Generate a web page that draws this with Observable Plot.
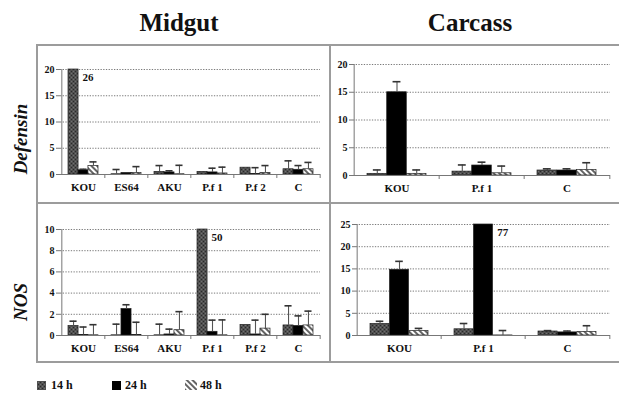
<!DOCTYPE html>
<html><head><meta charset="utf-8">
<script src="https://cdn.jsdelivr.net/npm/d3@7"></script>
<script src="https://cdn.jsdelivr.net/npm/@observablehq/plot@0.6"></script>
<style>
body{margin:0;background:#fff;}
#wrap{position:relative;width:619px;height:394px;font-family:"Liberation Serif","Times New Roman",serif;font-weight:bold;color:#111;overflow:hidden}
.abs{position:absolute}
.title{font-size:25px;line-height:25px;width:200px;text-align:center}
.ylab{font-size:19px;font-style:italic;line-height:20px;white-space:nowrap;transform:translate(-50%,-50%) rotate(-90deg)}
.ln{position:absolute;background:#9c9c9c}
.leg{font-size:12px;line-height:12px;white-space:nowrap}
</style></head>
<body><div id="wrap"></div>
<script>
// ---------------- data ----------------
const timepoints = ["14 h", "24 h", "48 h"];
const midgutCats = ["KOU", "ES64", "AKU", "P.f 1", "P.f 2", "C"];
const carcassCats = ["KOU", "P.f 1", "C"];

// means: one row per timepoint (14 h, 24 h, 48 h), one column per category
const midgutDefensinMean = [
  [26, 0.05, 0.5, 0.5, 1.3, 1.0],
  [0.8, 0.3, 0.4, 0.4, 0.1, 0.9],
  [1.6, 0.3, 0.05, 0.2, 0.3, 1.0]
];
const midgutDefensinSD = [
  [null, 0.9, 1.2, null, null, 1.6],
  [0.2, null, 0.3, 0.8, 1.2, 0.8],
  [0.8, 1.2, 1.7, 1.2, 1.4, 1.3]
];
const carcassDefensinMean = [
  [0.3, 0.7, 0.9],
  [15.0, 1.8, 0.9],
  [0.3, 0.4, 1.0]
];
const carcassDefensinSD = [
  [0.7, 1.2, 0.3],
  [1.9, 0.6, 0.3],
  [0.7, 1.3, 1.3]
];
const midgutNOSMean = [
  [0.9, 0.02, 0.02, 50, 1.0, 0.95],
  [0.05, 2.5, 0.1, 0.35, 0.1, 0.9],
  [0.02, 0.05, 0.5, 0.02, 0.65, 0.95]
];
const midgutNOSSD = [
  [0.45, 1.05, 1.05, null, null, 1.85],
  [0.75, 0.4, 0.5, 1.1, 1.35, 0.95],
  [1.0, 1.2, 1.75, 1.45, 1.35, 1.35]
];
const carcassNOSMean = [
  [2.6, 1.4, 0.9],
  [14.8, 77, 0.7],
  [1.0, 0.02, 0.8]
];
const carcassNOSSD = [
  [0.6, 1.3, 0.2],
  [1.9, null, 0.3],
  [0.6, 1.1, 1.4]
];
const defensinTicks = [0, 5, 10, 15, 20];
const midgutNOSTicks = [0, 2, 4, 6, 8, 10];
const carcassNOSTicks = [0, 5, 10, 15, 20, 25];

// ---------------- page ----------------
const FONT = '"Liberation Serif", "Times New Roman", serif';
const wrap = document.getElementById("wrap");
wrap.insertAdjacentHTML("beforeend", `
<svg width="0" height="0" style="position:absolute">
  <defs>
    <pattern id="p14" patternUnits="userSpaceOnUse" width="4" height="4">
      <rect x="-1" y="-1" width="6" height="6" fill="#505050" shape-rendering="crispEdges"/>
      <rect x="0" y="0" width="1" height="1" fill="#2a2a2a" shape-rendering="crispEdges"/>
      <rect x="2" y="2" width="1" height="1" fill="#2a2a2a" shape-rendering="crispEdges"/>
      <rect x="2" y="0" width="1" height="1" fill="#707070" shape-rendering="crispEdges"/>
      <rect x="0" y="2" width="1" height="1" fill="#707070" shape-rendering="crispEdges"/>
    </pattern>
    <pattern id="p48" patternUnits="userSpaceOnUse" width="4" height="4" patternTransform="rotate(-45)">
      <rect x="-1" y="-1" width="6" height="6" fill="#fff"/>
      <line x1="1" y1="-1" x2="1" y2="5" stroke="#111" stroke-width="1.3"/>
    </pattern>
  </defs>
</svg>`);

function add(html) { wrap.insertAdjacentHTML("beforeend", html); }

add(`<div class="abs title" style="left:79px;top:10px">Midgut</div>`);
add(`<div class="abs title" style="left:370px;top:10px">Carcass</div>`);
add(`<div class="abs ylab" style="left:21px;top:139px">Defensin</div>`);
add(`<div class="abs ylab" style="left:21px;top:302px">NOS</div>`);

const fills = ["url(#p14)", "#000", "url(#p48)"];

function panel(cfg) {
  const {cats, mean, sd, ticks, left, top, width, height, mt, mb, ml, mr, cap} = cfg;
  const yMax = ticks[ticks.length - 1];
  const n = cats.length;
  const W = width - ml - mr, H = height - mt - mb;
  const pad = 0.31, step = W / n, bw = step * (1 - pad), sub = bw / 3;
  const rows = [];
  timepoints.forEach((t, i) => cats.forEach((c, j) => rows.push({cat: c, t, i, v: mean[i][j], e: sd[i][j]})));
  const marks = [
    Plot.ruleY(ticks.filter(d => d > 0), {stroke: "#7a7a7a", strokeWidth: 1, strokeDasharray: "1.3,1.4"})
  ];
  timepoints.forEach((t, i) => {
    marks.push(Plot.barY(rows.filter(r => r.i === i), {
      x: "cat", y1: 0, y2: "v", fill: fills[i], stroke: "#222", strokeWidth: 0.7,
      insetLeft: i * sub, insetRight: (2 - i) * sub
    }));
  });
  timepoints.forEach((t, i) => {
    const d = rows.filter(r => r.i === i && r.e != null && r.v <= yMax);
    marks.push(Plot.ruleX(d, {x: "cat", y1: "v", y2: r => r.v + r.e, dx: (i - 1) * sub, stroke: "#555", strokeWidth: 1.1}));
    marks.push(Plot.tickY(d, {
      x: "cat", y: r => r.v + r.e, stroke: "#333", strokeWidth: 1.6,
      insetLeft: (i + 0.5) * sub - cap, insetRight: bw - (i + 0.5) * sub - cap
    }));
    const over = rows.filter(r => r.i === i && r.v > yMax);
    if (over.length) marks.push(Plot.text(over, {
      x: "cat", y: "v", text: r => String(r.v), dx: (i + 1) * sub - bw / 2 + 4, dy: 8,
      textAnchor: "start", fontSize: 11, fill: "#111"
    }));
  });
  // axes lines
  marks.push(Plot.ruleY([0], {stroke: "#777", strokeWidth: 1}));
  marks.push(Plot.ruleX([cats[0]], {dx: -step / 2, stroke: "#777", strokeWidth: 1}));
  marks.push(Plot.ruleX(cats.slice(1), {dx: -step / 2, stroke: "#777", insetTop: H, insetBottom: -4}));
  marks.push(Plot.ruleX([cats[n - 1]], {dx: step / 2, stroke: "#777", insetTop: H, insetBottom: -4}));

  const svg = Plot.plot({
    width, height, marginTop: mt, marginBottom: mb, marginLeft: ml, marginRight: mr,
    x: {domain: cats, paddingInner: pad, paddingOuter: pad / 2, tickSize: 0, tickPadding: 9, label: null},
    y: {domain: [0, yMax], clamp: true, ticks, tickSize: 4, tickPadding: 2, label: null},
    style: {fontFamily: FONT, fontWeight: "bold", fontSize: "10px", color: "#111", background: "transparent", overflow: "visible"},
    marks
  });
  const s = d3.select(svg);
  s.selectAll("g").attr("font-family", null);
  s.selectAll("text").style("font-family", FONT).style("font-weight", "bold");
  s.selectAll('[aria-label^="x-axis"] text').style("font-size", "11px");
  s.selectAll('[aria-label^="y-axis"] text').style("font-size", "10px");
  s.selectAll('[aria-label^="y-axis"] line, [aria-label^="y-axis"] path').attr("stroke", "#777");
  const div = document.createElement("div");
  div.className = "abs";
  div.style.left = left + "px"; div.style.top = top + "px"; div.style.width = width + "px"; div.style.height = height + "px";
  div.appendChild(svg);
  wrap.appendChild(div);
}

panel({cats: midgutCats, mean: midgutDefensinMean, sd: midgutDefensinSD, ticks: defensinTicks,
  left: 37, top: 45, width: 293, height: 158, mt: 24, mb: 29, ml: 23, mr: 10, cap: 3.5});
panel({cats: carcassCats, mean: carcassDefensinMean, sd: carcassDefensinSD, ticks: defensinTicks,
  left: 330, top: 45, width: 289, height: 158, mt: 19, mb: 28, ml: 23, mr: 9, cap: 4});
panel({cats: midgutCats, mean: midgutNOSMean, sd: midgutNOSSD, ticks: midgutNOSTicks,
  left: 37, top: 203, width: 293, height: 159, mt: 26, mb: 27, ml: 23, mr: 10, cap: 3.5});
panel({cats: carcassCats, mean: carcassNOSMean, sd: carcassNOSSD, ticks: carcassNOSTicks,
  left: 330, top: 203, width: 289, height: 159, mt: 21, mb: 27, ml: 26, mr: 9, cap: 4});

// box lines
add(`<div class="ln" style="left:36px;top:44px;width:590px;height:2px"></div>`);
add(`<div class="ln" style="left:36px;top:361px;width:590px;height:2px"></div>`);
add(`<div class="ln" style="left:36px;top:44px;width:2px;height:319px"></div>`);
add(`<div class="ln" style="left:329px;top:44px;width:2px;height:319px"></div>`);
add(`<div class="ln" style="left:36px;top:202px;width:590px;height:2px"></div>`);

// legend
add(`<svg class="abs" style="left:0;top:370px" width="619" height="24">
  <rect x="37" y="11" width="9" height="9" fill="url(#p14)"/>
  <rect x="112" y="11" width="9" height="9" fill="#000"/>
  <rect x="185" y="10" width="12" height="10" fill="url(#p48)"/>
</svg>`);
add(`<div class="abs leg" style="left:51px;top:379px">${timepoints[0]}</div>`);
add(`<div class="abs leg" style="left:125px;top:379px">${timepoints[1]}</div>`);
add(`<div class="abs leg" style="left:200px;top:379px">${timepoints[2]}</div>`);
</script>
</body></html>
